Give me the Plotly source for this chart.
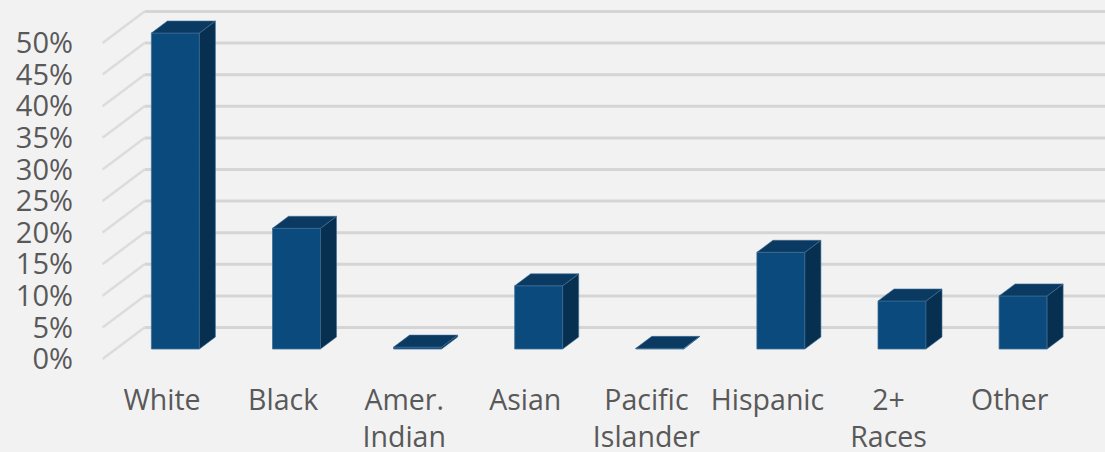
import plotly.graph_objects as go
import numpy as np

categories = ["White", "Black", "Amer.<br>Indian", "Asian", "Pacific<br>Islander", "Hispanic", "2+<br>Races", "Other"]
values = [50.0, 19.1, 0.3, 10.0, 0.1, 15.3, 7.6, 8.4]
tick_values = [0, 5, 10, 15, 20, 25, 30, 35, 40, 45, 50]
tick_labels = ["0%", "5%", "10%", "15%", "20%", "25%", "30%", "35%", "40%", "45%", "50%"]

W, H = 1105, 452
ML, MB = 76, 72
PX_PER_CAT = 121.1
PX_PER_VAL = 6.32
X0_PX = 162.0
Y0_PX = 359.0

def dx(px):
    return px / PX_PER_CAT

def dv(px):
    return px / PX_PER_VAL

x_range = [(ML - X0_PX) / PX_PER_CAT, (W - X0_PX) / PX_PER_CAT]
y_range = [(Y0_PX - (H - MB)) / PX_PER_VAL, Y0_PX / PX_PER_VAL]

WALL_DX, WALL_DY = dx(42), dv(31.5)
BAR_SHIFT_X, BAR_LIFT = dx(13.4), dv(10)
BAR_W = dx(48)
DEPTH_X, DEPTH_V = dx(16), dv(12)
LEFT = -0.4909  # left edge of the floor in category units

FRONT = "#0b4a7c"
TOP = "#0a3a62"
SIDE = "#072f50"
EDGE = "#3f6f97"
BG = "#f2f2f2"

shapes = []
for t in tick_values:
    shapes.append(dict(type="line", layer="below", xref="x", yref="y",
                       x0=LEFT, y0=t, x1=LEFT + WALL_DX, y1=t + WALL_DY,
                       line=dict(color="#dcdcdc", width=2.5)))
    shapes.append(dict(type="line", layer="below", xref="x", yref="y",
                       x0=LEFT + WALL_DX, y0=t + WALL_DY, x1=x_range[1], y1=t + WALL_DY,
                       line=dict(color="#d5d5d5", width=3)))

xs = np.arange(len(categories))
fig = go.Figure()
fig.add_trace(go.Bar(x=xs + BAR_SHIFT_X, y=values, base=BAR_LIFT, width=BAR_W,
                     marker=dict(color=FRONT, line=dict(color=EDGE, width=0.8)),
                     showlegend=False))

for x, v in zip(xs, values):
    l = x + BAR_SHIFT_X - BAR_W / 2
    r = x + BAR_SHIFT_X + BAR_W / 2
    b = BAR_LIFT
    t = BAR_LIFT + v
    fig.add_trace(go.Scatter(x=[r, r + DEPTH_X, r + DEPTH_X, r, r],
                             y=[b, b + DEPTH_V, t + DEPTH_V, t, b],
                             mode="lines", fill="toself", fillcolor=SIDE,
                             line=dict(color=EDGE, width=0.6), showlegend=False, hoverinfo="skip"))
    fig.add_trace(go.Scatter(x=[l, l + DEPTH_X, r + DEPTH_X, r, l],
                             y=[t, t + DEPTH_V, t + DEPTH_V, t, t],
                             mode="lines", fill="toself", fillcolor=TOP,
                             line=dict(color=EDGE, width=0.6), showlegend=False, hoverinfo="skip"))

fig.update_layout(
    width=W, height=H,
    autosize=False,
    paper_bgcolor=BG, plot_bgcolor=BG,
    margin=dict(l=ML, r=0, t=0, b=MB, autoexpand=False),
    shapes=shapes,
    font=dict(family="Open Sans", color="#595959", size=28),
    xaxis=dict(range=x_range, tickmode="array", tickvals=list(xs), ticktext=categories,
               showgrid=False, zeroline=False, showline=False, ticks="", automargin=False,
               tickangle=0, tickfont=dict(size=28.5)),
    yaxis=dict(range=y_range, tickmode="array", tickvals=tick_values, ticktext=tick_labels,
               showgrid=False, zeroline=False, showline=False, ticks="", automargin=False,
               ticklabelstandoff=2, tickfont=dict(size=29)),
)
fig.write_html("out.html", config={"displayModeBar": False},
               post_script="document.body.style.margin='0';document.body.style.overflow='hidden';document.body.style.background='#f2f2f2';")
